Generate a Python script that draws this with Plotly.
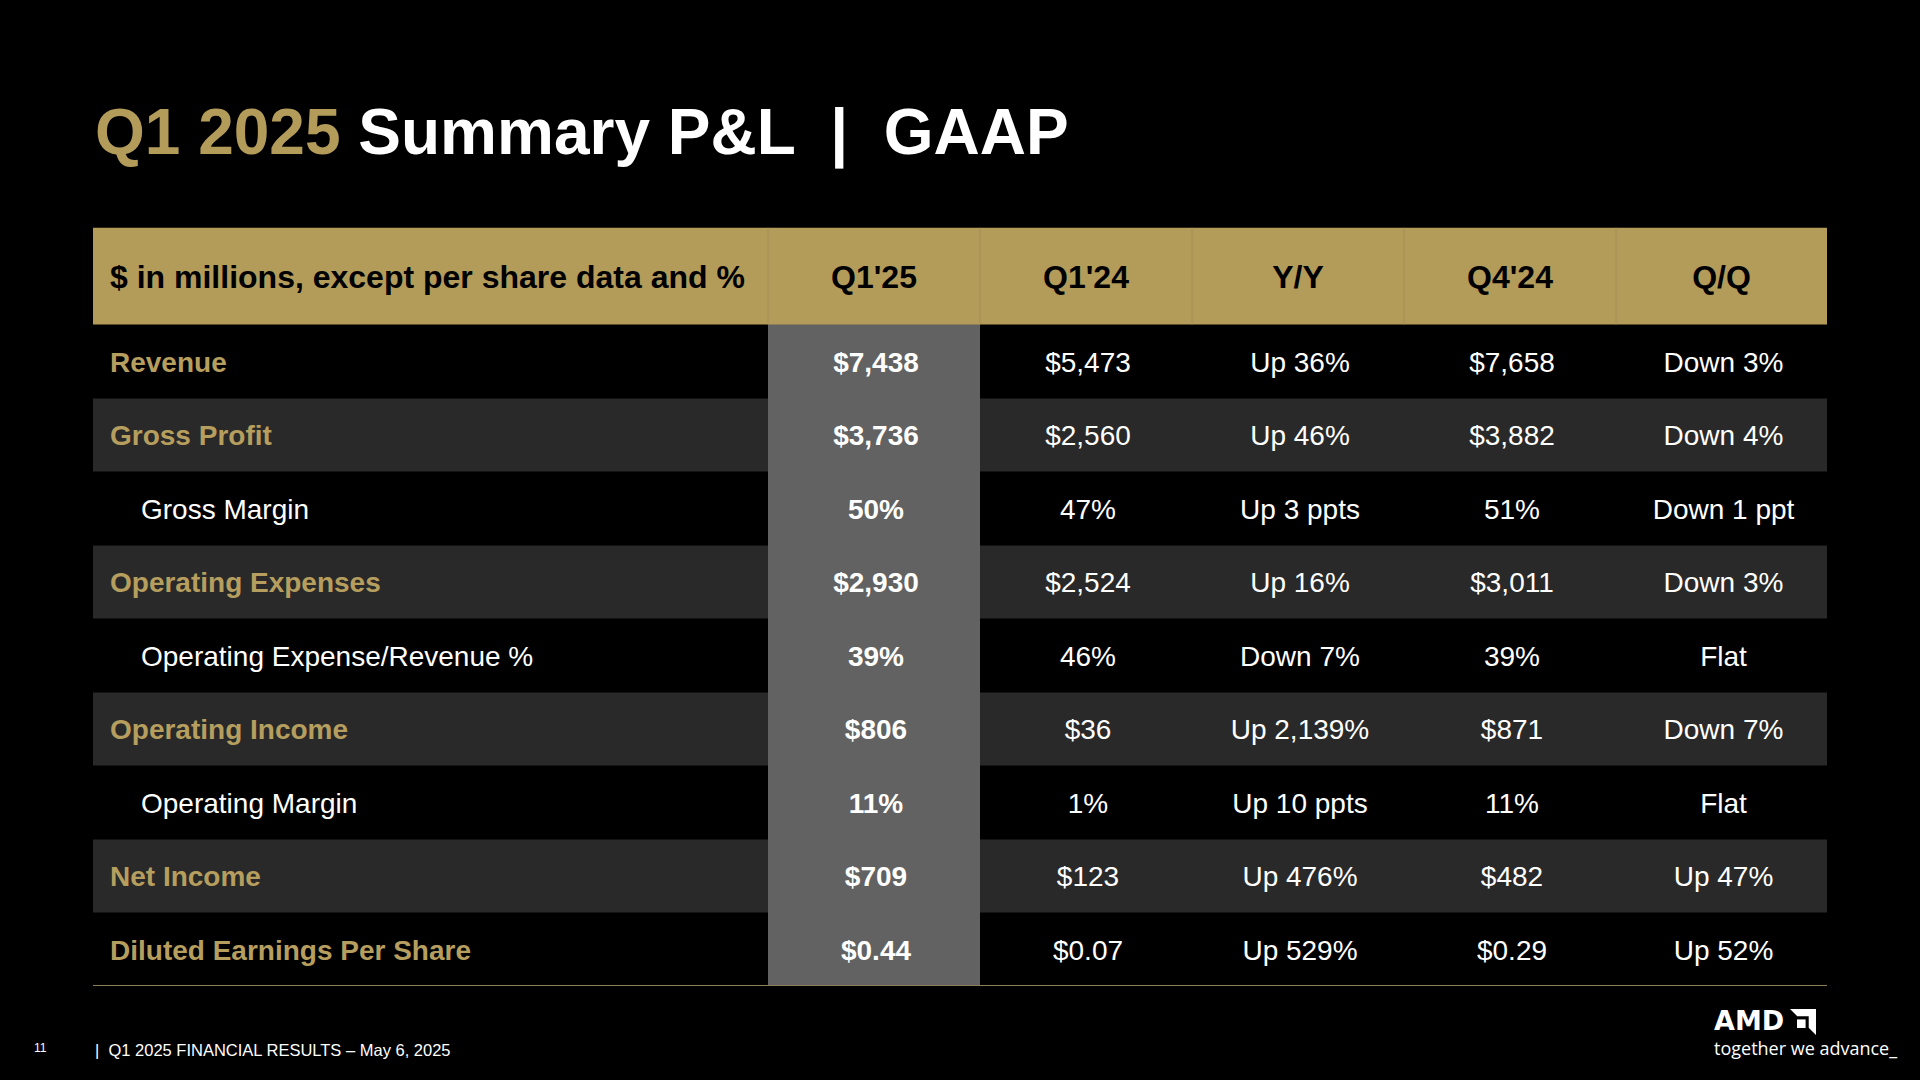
import plotly.graph_objects as go

# ---------------- data ----------------
header_labels = ["$ in millions, except per share data and %", "Q1'25", "Q1'24", "Y/Y", "Q4'24", "Q/Q"]
row_labels = ["Revenue", "Gross Profit", "Gross Margin", "Operating Expenses",
              "Operating Expense/Revenue %", "Operating Income", "Operating Margin",
              "Net Income", "Diluted Earnings Per Share"]
row_is_sub = [0, 0, 1, 0, 1, 0, 1, 0, 0]
q1_25 = ["$7,438", "$3,736", "50%", "$2,930", "39%", "$806", "11%", "$709", "$0.44"]
q1_24 = ["$5,473", "$2,560", "47%", "$2,524", "46%", "$36", "1%", "$123", "$0.07"]
yoy = ["Up 36%", "Up 46%", "Up 3 ppts", "Up 16%", "Down 7%", "Up 2,139%", "Up 10 ppts", "Up 476%", "Up 529%"]
q4_24 = ["$7,658", "$3,882", "51%", "$3,011", "39%", "$871", "11%", "$482", "$0.29"]
qoq = ["Down 3%", "Down 4%", "Down 1 ppt", "Down 3%", "Flat", "Down 7%", "Flat", "Up 47%", "Up 52%"]

title_gold = "Q1 2025"
title_rest = "Summary P&L  |  GAAP"
footer_page = "11"
footer_text = "Q1 2025 FINANCIAL RESULTS \u2013 May 6, 2025"

# ---------------- style ----------------
W, H = 1920, 1080
GOLD = "#B39B5A"
GOLD_TXT = "#B69E5E"
DARK = "#292929"
GRAY = "#626262"
FONT = "Liberation Sans, Arial, sans-serif"

col_w = [675, 212, 212, 212, 212, 211]
head_h = 97
row_h = 73.5
tbl_left, tbl_top = 93, 227.5
pad_left = 17
indent = 31
text_dy = 3.5   # small downward nudge of text inside cells
val_dx = 2      # small rightward nudge of value text

x_edges = [0]
for w in col_w:
    x_edges.append(x_edges[-1] + w)
y_edges = [0, head_h] + [head_h + row_h * (i + 1) for i in range(len(row_labels))]
tbl_w = x_edges[-1]
tbl_h = y_edges[-1]

# colour index grid: 0 black, 1 dark, 2 gray col, 3 gold header
z = [[3] * len(col_w)]
for i in range(len(row_labels)):
    base = 1 if i % 2 == 1 else 0
    z.append([base, 2, base, base, base, base])

cs = [[0, "#000000"], [1 / 6, "#000000"], [1 / 6, DARK], [0.5, DARK],
      [0.5, GRAY], [5 / 6, GRAY], [5 / 6, GOLD], [1, GOLD]]

fig = go.Figure()
fig.add_trace(go.Heatmap(x=x_edges, y=y_edges, z=z, colorscale=cs, zmin=0, zmax=3,
                         showscale=False, hoverinfo="skip"))

col_centers = [(x_edges[j] + x_edges[j + 1]) / 2 for j in range(len(col_w))]
row_centers = [(y_edges[i + 1] + y_edges[i + 2]) / 2 + text_dy for i in range(len(row_labels))]
head_center = head_h / 2 + text_dy

# header text
fig.add_trace(go.Scatter(
    x=[pad_left], y=[head_center], mode="text",
    text=["<b>" + header_labels[0] + "</b>"], textposition="middle right",
    textfont=dict(family=FONT, size=32, color="#000000"), hoverinfo="skip"))
fig.add_trace(go.Scatter(
    x=col_centers[1:], y=[head_center] * 5, mode="text",
    text=["<b>" + h + "</b>" for h in header_labels[1:]], textposition="middle center",
    textfont=dict(family=FONT, size=32, color="#000000"), hoverinfo="skip"))

# row labels
fig.add_trace(go.Scatter(
    x=[pad_left + indent * s for s in row_is_sub], y=row_centers, mode="text",
    text=[(lab if s else "<b>" + lab + "</b>") for lab, s in zip(row_labels, row_is_sub)],
    textposition="middle right",
    textfont=dict(family=FONT, size=28, color=["#FFFFFF" if s else GOLD_TXT for s in row_is_sub]),
    hoverinfo="skip"))

# value columns
for j, vals in enumerate([q1_25, q1_24, yoy, q4_24, qoq]):
    bold = j == 0
    fig.add_trace(go.Scatter(
        x=[col_centers[j + 1] + val_dx] * len(vals), y=row_centers, mode="text",
        text=[("<b>" + v + "</b>") if bold else v for v in vals],
        textposition="middle center",
        textfont=dict(family=FONT, size=28, color="#FFFFFF"), hoverinfo="skip"))

shapes = []
# header dividers
for xe in x_edges[1:-1]:
    shapes.append(dict(type="line", xref="x", yref="y", x0=xe, x1=xe, y0=0, y1=head_h,
                       line=dict(color="#A58E52", width=1)))
# bottom rule
shapes.append(dict(type="line", xref="x", yref="y", x0=0, x1=tbl_w, y0=tbl_h, y1=tbl_h,
                   line=dict(color="#8C7C57", width=2)))

# AMD arrow logo (decoration, pixel-based)
lx, ly, ls = 1790, 1009, 26
def P(pts):
    s = ""
    for k, (a, b) in enumerate(pts):
        X = (lx + a * ls) / W
        Y = 1 - (ly + b * ls) / H
        s += ("M" if k == 0 else "L") + f"{X:.5f},{Y:.5f} "
    return s + "Z"
shapes.append(dict(type="path", xref="paper", yref="paper",
                   path=P([(0, 0), (1, 0), (1, 1), (0.72, 0.72), (0.72, 0.28), (0.28, 0.28)]),
                   fillcolor="#FFFFFF", line=dict(width=0)))
shapes.append(dict(type="path", xref="paper", yref="paper",
                   path=P([(0.27, 0.40), (0.6, 0.40), (0.6, 0.73), (0.27, 0.73)]),
                   fillcolor="#FFFFFF", line=dict(width=0)))

annotations = [
    dict(xref="paper", yref="paper", x=tbl_left / W, y=1 - 133 / H, xanchor="left", yanchor="middle",
         text=f"<b><span style='color:{GOLD}'>{title_gold}</span> {title_rest}</b>",
         showarrow=False, font=dict(family=FONT, size=64, color="#FFFFFF")),
    dict(xref="paper", yref="paper", x=40 / W, y=1 - 1048 / H, xanchor="center", yanchor="middle",
         text=footer_page, showarrow=False, font=dict(family=FONT, size=12, color="#FFFFFF")),
    dict(xref="paper", yref="paper", x=tbl_left / W, y=1 - 1050 / H, xanchor="left", yanchor="middle",
         text="|\u00a0\u00a0" + footer_text, showarrow=False, font=dict(family=FONT, size=16.5, color="#FFFFFF")),
    dict(xref="paper", yref="paper", x=1712 / W, y=1 - 1020 / H, xanchor="left", yanchor="middle",
         text="<b>AMD</b>", showarrow=False, font=dict(family="DejaVu Sans, sans-serif", size=27, color="#FFFFFF")),
    dict(xref="paper", yref="paper", x=1712 / W, y=1 - 1048 / H, xanchor="left", yanchor="middle",
         text="together we advance_", showarrow=False, font=dict(family="Open Sans, sans-serif", size=18, color="#FFFFFF")),
]

fig.update_layout(
    width=W, height=H, autosize=False,
    margin=dict(l=0, r=0, t=0, b=0),
    paper_bgcolor="#000000", plot_bgcolor="#000000",
    showlegend=False,
    xaxis=dict(domain=[tbl_left / W, (tbl_left + tbl_w) / W], range=[0, tbl_w],
               visible=False, fixedrange=True),
    yaxis=dict(domain=[1 - (tbl_top + tbl_h) / H, 1 - tbl_top / H], range=[tbl_h, 0],
               visible=False, fixedrange=True),
    shapes=shapes, annotations=annotations,
)

fig.write_html("out.html", config={"displayModeBar": False},
               post_script="document.body.style.margin='0';document.body.style.background='#000';"
                           "document.body.style.overflow='hidden';")
